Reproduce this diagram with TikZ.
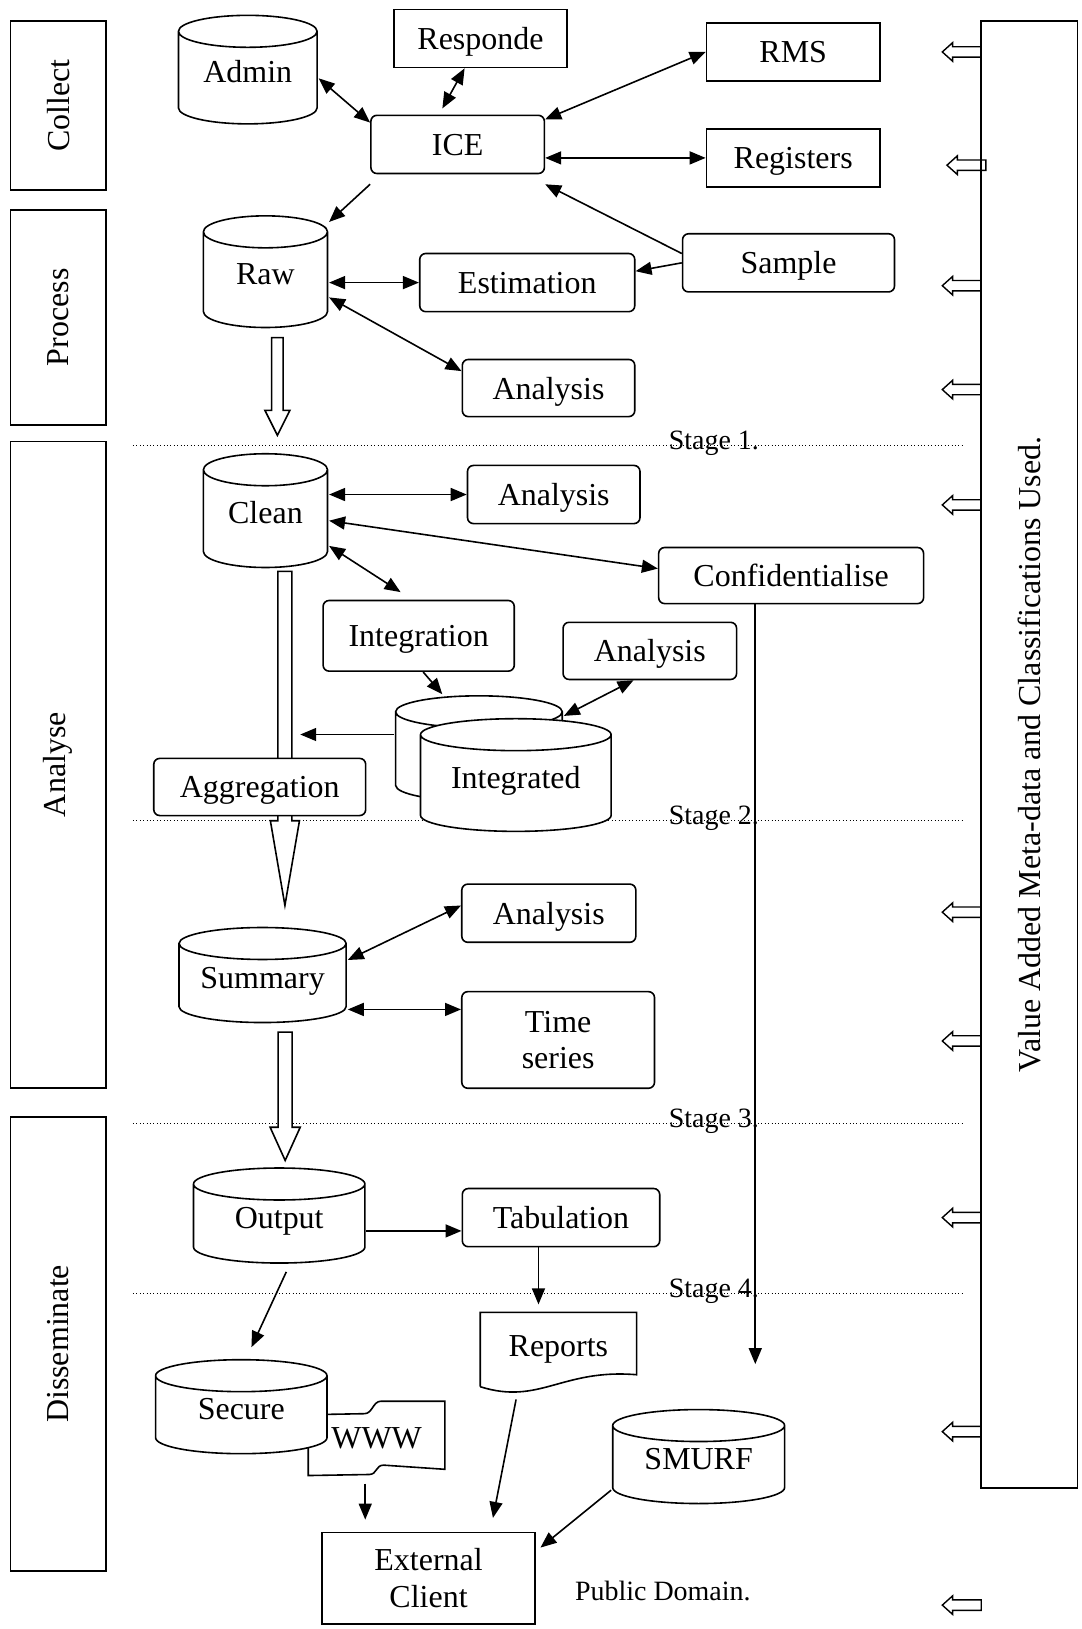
\documentclass[tikz,border=0pt]{standalone}
\usepackage{fontspec}
\setmainfont{Liberation Serif}
\usetikzlibrary{arrows.meta,calc}

% hollow block arrow pointing down: x, half shaft, half head, top, head base, tip
\newcommand{\flowdown}[6]{%
  \draw[fill=white] (#1-#2,#4) -- (#1-#2,#5) -- (#1-#3,#5) -- (#1,#6)
    -- (#1+#3,#5) -- (#1+#2,#5) -- (#1+#2,#4) -- cycle;}
% small hollow arrow pointing left: tip x, y
\newcommand{\metain}[2]{%
  \draw[line width=0.7pt] (#1,#2) -- (#1+10,#2-9) -- (#1+10,#2-5) -- (#1+37.5,#2-5)
    -- (#1+37.5,#2+5) -- (#1+10,#2+5) -- (#1+10,#2+9) -- cycle;}

\begin{document}
\begin{tikzpicture}[x=0.52pt,y=-0.52pt,line width=0.8pt,
  >={Triangle[length=8pt,width=6.5pt]},
  every node/.style={font=\fontsize{16}{18.4}\selectfont,inner sep=0pt,align=center},
  lowtext/.style={text height=15pt,text depth=4pt},
  box/.style 2 args={draw,minimum width=#1*0.52pt,minimum height=#2*0.52pt},
  rbox/.style 2 args={box={#1}{#2},rounded corners=3pt,lowtext},
  side/.style 2 args={box={#1}{#2},rotate=90},
  store/.style 2 args={minimum width=#1*0.52pt,minimum height=#2*0.52pt,
    text height=17pt,text depth=4pt,
    path picture={\draw[fill=white,line width=0.8pt]
      let \p1=(path picture bounding box.south west),
          \p2=(path picture bounding box.north east) in
      ({\x1+0.4pt},{\y2-8.4pt}) -- ({\x1+0.4pt},{\y1+8.4pt})
      arc[start angle=180,end angle=360,x radius={(\x2-\x1)/2-0.4pt},y radius=8pt]
      -- ({\x2-0.4pt},{\y2-8.4pt})
      arc[start angle=0,end angle=180,x radius={(\x2-\x1)/2-0.4pt},y radius=8pt] -- cycle
      ({\x1+0.4pt},{\y2-8.4pt})
      arc[start angle=180,end angle=360,x radius={(\x2-\x1)/2-0.4pt},y radius=8pt];}},
  arr/.style={->},
  both/.style={<->},
  stageline/.style={line width=0.5pt,dash pattern=on 0.5pt off 1.2pt},
  small/.style={font=\fontsize{14}{16}\selectfont}]
\useasboundingbox (0,0) rectangle (1041,1568);

% stage lines
\foreach \y/\s in {429/1,790/2,1081.5/3,1245/4}{
  \draw[stageline] (128,\y) -- (926,\y);
  \node[small,anchor=base west] (stage\s) at (643,\y+4) {Stage \s.};
}

% phases and meta-data
\node[side={163}{92}] (collect) at (56,101.5) {Collect};
\node[side={207}{92}] (process) at (56,305.5) {Process};
\node[side={622}{92}] (analyse) at (56,736) {Analyse};
\node[side={437}{92}] (dissem) at (56,1293.5) {Disseminate};
\node[side={1412}{92.5}] (meta) at (990.75,726) {Value Added Meta-data and Classifications Used.};
\foreach \y in {50,275,375,486,878,1002,1172,1378,1545} {\metain{907}{\y}}
\metain{911.5}{159}

% collect
\node[store={135}{106}] (admin) at (238.5,67) {Admin};
\node[box={167}{56},lowtext] (resp) at (462.5,37) {Responde};
\node[rbox={167}{56}] (ice) at (440.5,139) {ICE};
\node[box={167}{56},lowtext] (rms) at (763.5,50) {RMS};
\node[box={167}{56},lowtext] (reg) at (763.5,152) {Registers};

% process
\node[store={121}{109}] (raw) at (255.5,261.5) {Raw};
\node[rbox={207}{56}] (est) at (507.5,272) {Estimation};
\node[rbox={204}{56}] (sample) at (759,253) {Sample};
\node[rbox={166}{55}] (ana1) at (528,373.5) {Analysis};
\flowdown{267}{5.5}{12}{325}{395}{419}

% analyse
\node[store={121}{111}] (clean) at (255.5,491.5) {Clean};
\node[rbox={166}{56}] (ana2) at (533,476) {Analysis};
\node[rbox={255}{54}] (conf) at (761.5,554) {Confidentialise};
\node[rbox={184}{68}] (integ) at (403,612) {Integration};
\node[rbox={167}{55}] (ana3) at (625.5,626.5) {Analysis};
\node[store={162}{103}] (intb) at (461,720.5) {};
\node[store={185}{110}] (intf) at (496.5,746) {Integrated};
\flowdown{274.25}{6.75}{14}{550}{790}{871.5}
\node[rbox={204}{55},fill=white] (aggr) at (250,757.5) {Aggregation};
\node[store={162.5}{93}] (summ) at (252.75,938.5) {Summary};
\node[rbox={167.5}{56}] (ana4) at (528.25,879) {Analysis};
\node[box={185.5}{93},rounded corners=3pt] (times) at (537.25,1001) {Time\\series};
\flowdown{274.5}{6.75}{14.5}{993.5}{1085}{1117}

% disseminate
\node[store={166.5}{93}] (output) at (268.75,1170) {Output};
\node[rbox={190}{56}] (tab) at (540,1172) {Tabulation};
\node[minimum width=149*0.52pt,minimum height=70*0.52pt] (reports) at (537.5,1299) {Reports};
\draw (reports.south west) -- (reports.north west) -- (reports.north east) -- ++(0,60)
  .. controls +(-72,-6) and +(57,18) .. (reports.south west);
\node[minimum width=130*0.52pt,minimum height=70*0.52pt] (www) at (362.5,1384.5) {WWW};
\draw (www.north west) ++(0,13) -- ++(54,-1) .. controls +(8,0) and +(-8,0) .. ++(16,-12)
  -- (www.north east) -- ($(www.south east)+(0,-6)$) -- ++(-59,-4)
  .. controls +(-8,0) and +(8,0) .. ++(-14,9) -- (www.south west) -- cycle;
\node[store={166.5}{92}] (secure) at (232.25,1354) {Secure};
\node[store={167}{92}] (smurf) at (672.5,1402) {SMURF};
\node[box={205}{88}] (ext) at (412.5,1519) {External\\Client};
\node[small] (pubdom) at (638,1531) {Public Domain.};

% connectors
\draw[both] (admin.-7) -- (ice.166);
\draw[both,shorten >=3.5pt] (resp.-118) -- (ice.122);
\draw[both] (ice.16) -- (rms.west);
\draw[both] (ice.east |- reg.west) -- (reg.west);
\draw[arr] (sample.175) -- ([yshift=-5pt]ice.south east);
\draw[arr] (sample.west) -- (est.6);
\draw[arr] ([yshift=-5pt]ice.south west) -- (raw.38);
\draw[both] (raw.east |- est.west) -- (est.west);
\draw[both] (raw.-22) -- (ana1.169);
\draw[both] (clean.east |- ana2.west) -- (ana2.west);
\draw[both] (clean.-9) -- (conf.177);
\draw[both,shorten >=7pt] (clean.-29) -- (integ.100);
\draw[arr] (integ.-83) -- (intb.124);
\draw[both] (intb.21) -- (ana3.-119);
\coordinate (aggin) at (289,707);
\draw[arr] (intb.west |- aggin) -- (aggin);
\draw[both] (summ.10) -- (ana4.175);
\draw[both] (summ.-22) -- (summ.-22 -| times.west);
\draw[arr] (output.-10) -- (output.-10 -| tab.west);
\draw[arr,shorten >=4pt] (tab.-127) -- (tab.-127 |- reports.north);
\draw[arr,shorten <=4pt,shorten >=6pt] (output.-78) -- (secure.84);
\draw[arr,shorten <=4pt,shorten >=6pt] (www.-107) -- (www.-107 |- ext.north);
\draw[arr,shorten <=6.5pt,shorten >=7pt] (reports.-137) -- (ext.37);
\draw[arr,shorten >=3pt] (smurf.-159) -- (ext.14);
\coordinate (confend) at (727,1313);
\draw[arr] (conf.south -| confend) -- (confend);
\end{tikzpicture}
\end{document}
